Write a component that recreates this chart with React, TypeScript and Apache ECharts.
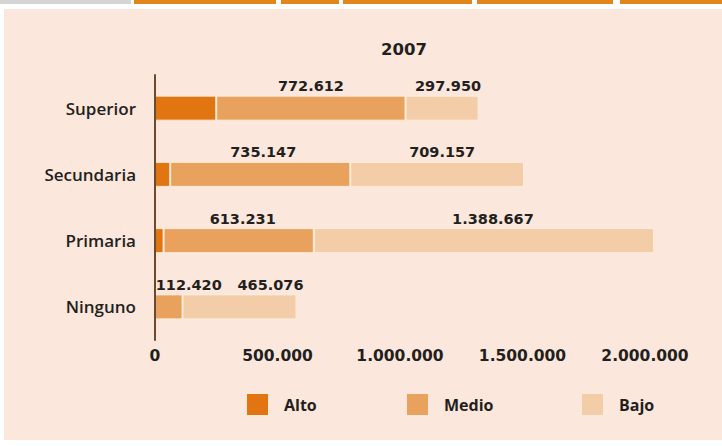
import React, { useEffect, useRef } from "react";
import * as echarts from "echarts";

const categories = ["Ninguno", "Primaria", "Secundaria", "Superior"];
const alto = [0, 35000, 62000, 250000];
const medio = [112420, 613231, 735147, 772612];
const bajo = [465076, 1388667, 709157, 297950];
const seriesNames = ["Alto", "Medio", "Bajo"];
const xTicks = [0, 500000, 1000000, 1500000, 2000000];
const title = "2007";

const COLORS = ["#e07511", "#e9a25e", "#f3cca8"];
const TEXT = "#231f20";
const FONT = "'Open Sans', 'Noto Sans', sans-serif";
const NUMFONT = "'DejaVu Sans', 'Open Sans', sans-serif";

// label nudges (Ninguno labels sit right of their bars in the source)
const medioOffsets = [[20, 0], [4, 0], [3, 0], [0, 0]];
const bajoOffsets = [[31, 0], [9, 0], [5, 0], [6, 0]];

const fmt = (v: number) => {
  const s = Math.round(v).toString();
  return s.replace(/\B(?=(\d{3})+(?!\d))/g, ".");
};

export default function App() {
  const ref = useRef<HTMLDivElement>(null);

  useEffect(() => {
    if (!ref.current) return;
    const chart = echarts.init(ref.current, null, { renderer: "svg" });

    const labelBase = {
      show: true,
      position: "top" as const,
      distance: 2,
      color: TEXT,
      fontFamily: NUMFONT,
      fontWeight: 700,
      fontSize: 14.5,
      formatter: (p: any) => fmt(p.value),
    };

    const mk = (vals: number[], offsets: number[][] | null) =>
      vals.map((v, i) =>
        offsets ? { value: v, label: { offset: offsets[i] } } : { value: v }
      );

    const itemStyle = (c: string) => ({
      color: c,
      borderColor: "rgba(255,238,222,0.9)",
      borderWidth: 1,
    });

    const legendCommon = {
      top: 389,
      icon: "rect",
      itemWidth: 21,
      itemHeight: 21,
      itemStyle: { borderWidth: 0 },
      textStyle: {
        color: TEXT,
        fontFamily: FONT,
        fontWeight: 700,
        fontSize: 16,
        padding: [0, 0, 0, 11],
      },
    };

    chart.setOption({
      animation: false,
      backgroundColor: "transparent",
      title: {
        text: title,
        left: 376,
        top: 36,
        textStyle: {
          color: TEXT,
          fontFamily: NUMFONT,
          fontWeight: 700,
          fontSize: 16.5,
        },
      },
      legend: [
        { ...legendCommon, left: 242, data: [seriesNames[0]] },
        { ...legendCommon, left: 402, data: [seriesNames[1]] },
        { ...legendCommon, left: 577, data: [seriesNames[2]] },
      ],
      grid: { left: 155, width: 490, top: 75, height: 265, containLabel: false },
      xAxis: {
        type: "value",
        min: xTicks[0],
        max: xTicks[xTicks.length - 1],
        interval: xTicks[1] - xTicks[0],
        axisLine: { show: false },
        axisTick: { show: false },
        splitLine: { show: false },
        axisLabel: {
          margin: 8,
          color: TEXT,
          fontFamily: NUMFONT,
          fontWeight: 700,
          fontSize: 15.5,
          formatter: (v: number) => fmt(v),
        },
      },
      yAxis: {
        type: "category",
        data: categories,
        offset: 1,
        z: 5,
        axisLine: {
          show: true,
          lineStyle: {
            color: "#6b4a2e",
            width: 2,
          },
        },
        axisTick: { show: false },
        axisLabel: {
          margin: 18,
          color: TEXT,
          fontFamily: FONT,
          fontWeight: 600,
          fontSize: 17,
        },
      },
      series: [
        {
          name: seriesNames[0],
          type: "bar",
          stack: "t",
          barWidth: 25,
          clip: false,
          itemStyle: itemStyle(COLORS[0]),
          data: mk(alto, null),
        },
        {
          name: seriesNames[1],
          type: "bar",
          stack: "t",
          barWidth: 25,
          clip: false,
          itemStyle: itemStyle(COLORS[1]),
          label: labelBase,
          data: mk(medio, medioOffsets),
        },
        {
          name: seriesNames[2],
          type: "bar",
          stack: "t",
          barWidth: 25,
          clip: false,
          itemStyle: itemStyle(COLORS[2]),
          label: labelBase,
          data: mk(bajo, bajoOffsets),
        },
      ],
    });

    return () => chart.dispose();
  }, []);

  const orangeSegs = [
    [134, 276],
    [281, 339],
    [343, 472],
    [477, 613],
    [620, 722],
  ];

  return (
    <div
      style={{
        position: "absolute",
        left: 0,
        top: 0,
        width: 722,
        height: 446,
        background: "#ffffff",
        overflow: "hidden",
      }}
    >
      <div
        style={{
          position: "absolute",
          left: 0,
          top: 0,
          width: 131,
          height: 4,
          background: "#d4d4d4",
        }}
      />
      {orangeSegs.map(([a, b], i) => (
        <div
          key={i}
          style={{
            position: "absolute",
            left: a,
            top: 0,
            width: b - a,
            height: 4,
            background: "#e2861c",
          }}
        />
      ))}
      <div
        style={{
          position: "absolute",
          left: 4,
          top: 9,
          width: 718,
          height: 431,
          background: "#fbe7db",
        }}
      />
      <div
        ref={ref}
        style={{ position: "absolute", left: 0, top: 0, width: 722, height: 446 }}
      />
    </div>
  );
}
